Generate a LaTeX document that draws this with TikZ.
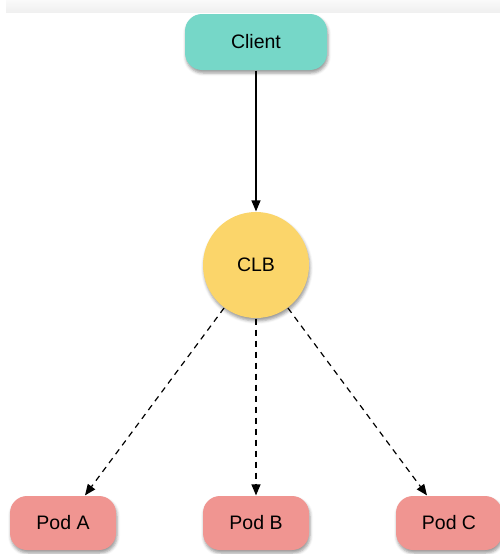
\documentclass[tikz,border=0pt]{standalone}
\usepackage{fontspec}
\setmainfont{Liberation Sans}
\usetikzlibrary{arrows.meta,shadows.blur}
\definecolor{clientcol}{HTML}{76D7C8}
\definecolor{clbcol}{HTML}{FBD56A}
\definecolor{podcol}{HTML}{F09591}
\begin{document}
\begin{tikzpicture}[x=1pt, y=-1pt,
        every node/.style={font=\fontsize{19.5}{22}\selectfont, text=black},
        shadowed/.style={blur shadow={shadow xshift=1pt, shadow yshift=-3pt, shadow blur radius=3pt, shadow opacity=40}},
        box/.style={rectangle, rounded corners=17pt, minimum width=106pt, minimum height=54pt, shadowed},
        >={Triangle[length=11pt, width=9pt]}, line width=1.2pt]
    \useasboundingbox (0,0) rectangle (500,554);
    % grey strip along the top
    \shade[top color=gray!4, bottom color=gray!12] (6,0) rectangle (500,12);
    \node[box, fill=clientcol, minimum width=142pt, minimum height=56pt] (client) at (256,42) {Client};
    \node[circle, fill=clbcol, minimum size=106pt, shadowed] (clb) at (256,265) {CLB};
    \node[box, fill=podcol] (a) at (63,523) {Pod A};
    \node[box, fill=podcol] (b) at (256,523) {Pod B};
    \node[box, fill=podcol] (c) at (449,523) {Pod C};
    \draw[->] (client) -- (clb);
    \draw[->, dash pattern=on 6pt off 5pt] (clb) -- ([xshift=22pt]a.north);
    \draw[->, dash pattern=on 6pt off 5pt] (clb) -- (b);
    \draw[->, dash pattern=on 6pt off 5pt] (clb) -- ([xshift=-22pt]c.north);
\end{tikzpicture}
\end{document}
